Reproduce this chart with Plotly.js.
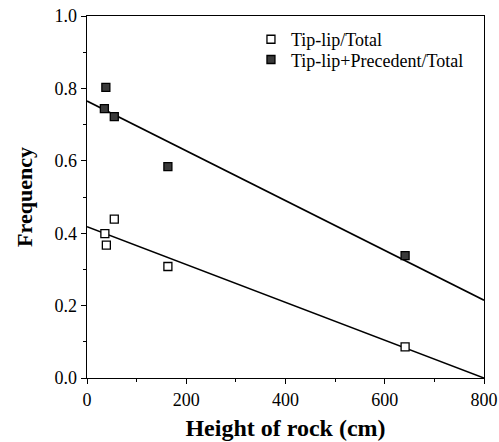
<!DOCTYPE html>
<html>
<head>
<meta charset="utf-8">
<script src="https://cdn.plot.ly/plotly-3.0.1.min.js"></script>
<style>html,body{margin:0;padding:0;background:#fff;}#chart{width:499px;height:442px;}</style>
</head>
<body>
<div id="chart"></div>
<script>
// Data
const heightTip = [36, 39, 55, 163, 641];
const freqTip = [0.399, 0.367, 0.439, 0.308, 0.086];
const heightPrec = [38, 35, 55, 163, 641];
const freqPrec = [0.803, 0.744, 0.722, 0.584, 0.338];
// Regression line end points
const fitX = [0, 800];
const fitTip = [0.418, 0.0];
const fitPrec = [0.765, 0.215];
const seriesNames = ['Tip-lip/Total', 'Tip-lip+Precedent/Total'];

const font = 'Liberation Serif';
const traces = [
  {x: fitX, y: fitTip, mode: 'lines', line: {color: '#000', width: 1.6}, showlegend: false, hoverinfo: 'skip'},
  {x: fitX, y: fitPrec, mode: 'lines', line: {color: '#000', width: 1.6}, showlegend: false, hoverinfo: 'skip'},
  {x: heightTip, y: freqTip, mode: 'markers', name: seriesNames[0], legend: 'legend',
   marker: {symbol: 'square', size: 8, color: '#fff', line: {color: '#000', width: 1.3}}},
  {x: heightPrec, y: freqPrec, mode: 'markers', name: seriesNames[1], legend: 'legend2',
   marker: {symbol: 'square', size: 8, color: '#3a3a3a', line: {color: '#000', width: 1.3}}}
];
const legendBase = {xanchor: 'left', yanchor: 'middle', bgcolor: 'rgba(0,0,0,0)', borderwidth: 0,
  font: {family: font, size: 18, color: '#000'}, itemwidth: 30};
const layout = {
  width: 499, height: 442,
  margin: {l: 87, r: 15, t: 16, b: 64},
  paper_bgcolor: '#fff', plot_bgcolor: '#fff',
  font: {family: font, size: 18, color: '#000'},
  showlegend: true,
  legend: Object.assign({}, legendBase, {x: 0.413, y: 0.935}),
  legend2: Object.assign({}, legendBase, {x: 0.413, y: 0.879}),
  xaxis: {range: [0, 800], tickvals: [0, 200, 400, 600, 800], ticks: 'outside', ticklen: 5,
          tickcolor: '#000', linecolor: '#000', linewidth: 1.3, mirror: true, showgrid: false,
          zeroline: false, tickfont: {family: font, size: 18},
          minor: {tickvals: [100, 300, 500, 700], ticks: 'outside', ticklen: 3, tickcolor: '#000'},
          title: {text: '<b>Height of rock (cm)</b>', font: {family: font, size: 24}, standoff: 10}},
  yaxis: {range: [0, 1.0], tickvals: [0, 0.2, 0.4, 0.6, 0.8, 1.0], tickformat: '.1f', ticks: 'outside', ticklen: 5,
          tickcolor: '#000', linecolor: '#000', linewidth: 1.3, mirror: true, showgrid: false,
          zeroline: false, tickfont: {family: font, size: 18},
          minor: {tickvals: [0.1, 0.3, 0.5, 0.7, 0.9], ticks: 'outside', ticklen: 3, tickcolor: '#000'},
          title: {text: '<b>Frequency</b>', font: {family: font, size: 22}, standoff: 16}}
};
Plotly.newPlot('chart', traces, layout, {displayModeBar: false, staticPlot: true});
</script>
</body>
</html>
